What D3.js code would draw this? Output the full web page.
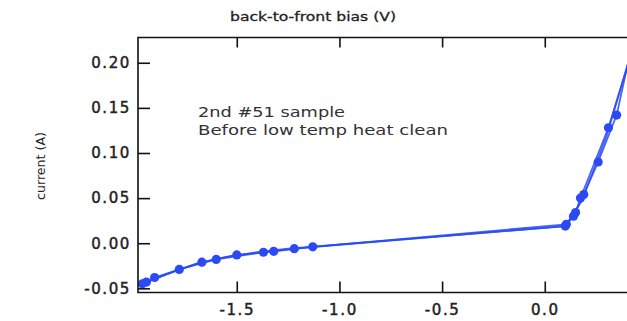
<!DOCTYPE html>
<html><head><meta charset="utf-8">
<script src="https://cdn.jsdelivr.net/npm/d3@7"></script>
<style>html,body{margin:0;padding:0;background:#fff;}svg{display:block;}</style>
</head><body>
<svg id="c" width="627" height="321"></svg>
<script>
// Data (three overlapping sweeps)
const sweep1V = [-1.96, -1.78, -1.60, -1.37, -1.22, 0.10, 0.14, 0.19, 0.26, 0.35, 0.45];
const sweep1I = [-0.045, -0.029, -0.018, -0.010, -0.006, 0.019, 0.030, 0.054, 0.090, 0.142, 0.246];
const sweep2V = [-1.94, -1.90, -1.67, -1.50, -1.32, -1.13, 0.105, 0.15, 0.174, 0.31, 0.45];
const sweep2I = [-0.043, -0.038, -0.021, -0.013, -0.009, -0.004, 0.021, 0.034, 0.050, 0.128, 0.232];
const sweep3V = [-1.95, -1.85, -1.70, -1.55, -1.40, -1.25, 0.10, 0.12, 0.18, 0.30, 0.44];
const sweep3I = [-0.044, -0.035, -0.023, -0.015, -0.010, -0.006, 0.019, 0.026, 0.047, 0.118, 0.225];
const xTicks = [-1.5, -1.0, -0.5, 0.0];
const yTicks = [-0.05, 0.00, 0.05, 0.10, 0.15, 0.20];
const titleText = "back-to-front bias (V)";
const yLabelText = "current (A)";
const noteLines = ["2nd #51 sample", "Before low temp heat clean"];

const svg = d3.select("#c");
const L = 138, T = 37.5, B = 292.5, R = 700;
const x = d3.scaleLinear().domain([-1.981, 0.756]).range([L, R]);
const y = d3.scaleLinear().domain([-0.0546, 0.228]).range([B, T]);

const blue = "#2b4af5";
const series = [
  {v: sweep1V, i: sweep1I, m: true},
  {v: sweep2V, i: sweep2I, m: true},
  {v: sweep3V, i: sweep3I, m: false}
];

svg.append("clipPath").attr("id", "clip").append("rect")
  .attr("x", L).attr("y", T).attr("width", R - L).attr("height", B - T);

const plot = svg.append("g").attr("clip-path", "url(#clip)");
const line = d3.line().x(d => x(d[0])).y(d => y(d[1]));
series.forEach(s => {
  const pts = s.v.map((v, k) => [v, s.i[k]]);
  plot.append("path").attr("d", line(pts)).attr("fill", "none")
    .attr("stroke", blue).attr("stroke-width", 1.8).attr("stroke-opacity", 0.85);
  if (s.m) {
    plot.selectAll(null).data(pts).enter().append("circle")
      .attr("cx", d => x(d[0])).attr("cy", d => y(d[1])).attr("r", 4.6)
      .attr("fill", blue);
  }
});

const fmtNum = (v, n) => (v < 0 ? "-" : "") + Math.abs(v).toFixed(n);
const axStyle = g => {
  g.select(".domain").remove();
  g.selectAll(".tick line").attr("stroke", "#111").attr("stroke-width", 1.6);
  g.selectAll("text").attr("fill", "#222").attr("font-family", "DejaVu Sans")
    .attr("font-size", 15).attr("letter-spacing", 1.6)
    .attr("stroke", "#222").attr("stroke-width", 0.45);
};
svg.append("g").attr("transform", `translate(${L},0)`)
  .call(d3.axisLeft(y).tickValues(yTicks).tickFormat(v => fmtNum(v, 2)).tickSize(-12).tickPadding(7))
  .call(axStyle);
svg.append("g").attr("transform", `translate(0,${B})`)
  .call(d3.axisBottom(x).tickValues(xTicks).tickFormat(v => fmtNum(v, 1)).tickSize(-11).tickPadding(12))
  .call(axStyle);
svg.append("g").attr("transform", `translate(0,${T})`)
  .call(d3.axisTop(x).tickValues(xTicks).tickFormat("").tickSize(-10))
  .call(axStyle);

// frame
svg.append("path").attr("d", `M${R},${T}H${L}V${B}H${R}`).attr("fill", "none")
  .attr("stroke", "#111").attr("stroke-width", 1.6);

svg.append("text").text(titleText).attr("x", 313).attr("y", 21)
  .attr("text-anchor", "middle").attr("font-family", "DejaVu Sans").attr("font-size", 13)
  .attr("fill", "#222").attr("stroke", "#222").attr("stroke-width", 0.3)
  .attr("textLength", 166).attr("lengthAdjust", "spacingAndGlyphs");

svg.append("text").text(yLabelText)
  .attr("transform", "translate(45,166) rotate(-90)")
  .attr("text-anchor", "middle").attr("font-family", "DejaVu Sans").attr("font-size", 13)
  .attr("fill", "#222").attr("textLength", 68).attr("lengthAdjust", "spacingAndGlyphs");

const noteW = [147, 250];
noteLines.forEach((t, k) => {
  svg.append("text").text(t).attr("x", 198).attr("y", 117 + k * 18)
    .attr("font-family", "DejaVu Sans").attr("font-size", 13.5).attr("fill", "#333")
    .attr("textLength", noteW[k]).attr("lengthAdjust", "spacingAndGlyphs");
});
</script>
</body></html>
